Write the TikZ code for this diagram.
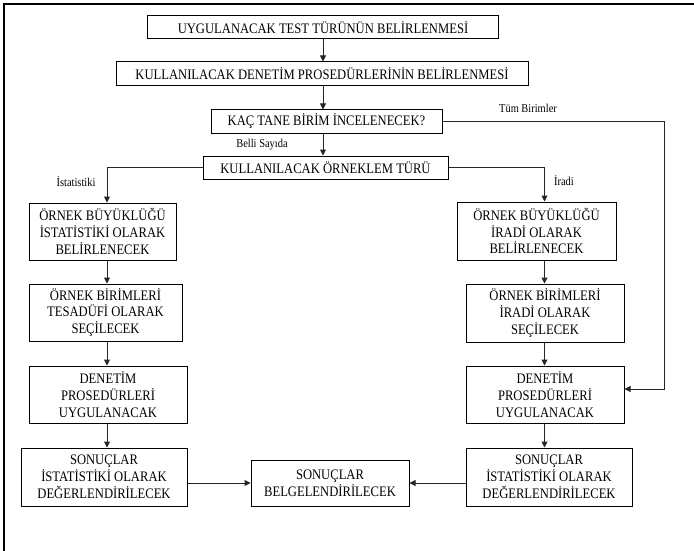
\documentclass[tikz,border=0pt]{standalone}
\usepackage{fontspec}
\setmainfont{Liberation Serif}[FakeStretch=0.87]
\usetikzlibrary{arrows.meta}
\begin{document}
\begin{tikzpicture}[x=1pt, y=-1pt, line width=0.9pt,
    box/.style={draw=black, line width=1pt, inner sep=0pt, align=center,
        font=\fontsize{14.5}{16.8}\selectfont, text=black},
    lbl/.style={inner sep=0pt, font=\fontsize{12}{14}\selectfont, text=black},
    arrow/.style={draw=black!85, line width=1pt, -{Triangle[length=6pt, width=6pt]}}
]
\useasboundingbox (0,0) rectangle (694,551);
% --- Rahmen ---
\draw[line width=1.3pt] (4,551) -- (4,4) -- (694,4);
% --- Ana akis ---
\node[box, minimum width=351pt, minimum height=23pt] (test) at (323,27.5) {UYGULANACAK TEST TÜRÜNÜN BELİRLENMESİ};
\node[box, minimum width=412pt, minimum height=24pt] (prosedur) at (322,74) {KULLANILACAK DENETİM PROSEDÜRLERİNİN BELİRLENMESİ};
\node[box, minimum width=231pt, minimum height=23pt] (kac) at (326.5,121.5) {KAÇ TANE BİRİM İNCELENECEK?};
\node[box, minimum width=245pt, minimum height=23pt] (tur) at (325.5,167.5) {KULLANILACAK ÖRNEKLEM TÜRÜ};
% --- Sol sutun (istatistiki) ---
\node[box, minimum width=147pt, minimum height=57pt] (sol1) at (102.5,231.5) {ÖRNEK BÜYÜKLÜĞÜ\\İSTATİSTİKİ OLARAK\\BELİRLENECEK};
\node[box, minimum width=153pt, minimum height=57pt] (sol2) at (105.5,312.5) {ÖRNEK BİRİMLERİ\\TESADÜFİ OLARAK\\SEÇİLECEK};
\node[box, minimum width=158pt, minimum height=57pt] (sol3) at (108,394.5) {DENETİM\\PROSEDÜRLERİ\\UYGULANACAK};
\node[box, minimum width=166pt, minimum height=58pt] (sol4) at (104,477) {SONUÇLAR\\İSTATİSTİKİ OLARAK\\DEĞERLENDİRİLECEK};
% --- Sag sutun (iradi) ---
\node[box, minimum width=159pt, minimum height=58pt] (sag1) at (536.5,231) {ÖRNEK BÜYÜKLÜĞÜ\\İRADİ OLARAK\\BELİRLENECEK};
\node[box, minimum width=158pt, minimum height=58pt] (sag2) at (545,313) {ÖRNEK BİRİMLERİ\\İRADİ OLARAK\\SEÇİLECEK};
\node[box, minimum width=158pt, minimum height=57pt] (sag3) at (545,394.5) {DENETİM\\PROSEDÜRLERİ\\UYGULANACAK};
\node[box, minimum width=166pt, minimum height=58pt] (sag4) at (549,477) {SONUÇLAR\\İSTATİSTİKİ OLARAK\\DEĞERLENDİRİLECEK};
% --- Sonuc ---
\node[box, minimum width=158pt, minimum height=46pt] (belge) at (330,483) {SONUÇLAR\\BELGELENDİRİLECEK};
% --- Yardimci noktalar ---
\coordinate (solx) at (107,0);
\coordinate (sagx) at (544.5,0);
\coordinate (orta) at (323,0);
\coordinate (tum) at (664,389);
% --- Oklar ---
\draw[arrow] (orta |- test.south) -- (orta |- prosedur.north);
\draw[arrow] (orta |- prosedur.south) -- (orta |- kac.north);
\draw[arrow] (orta |- kac.south) -- (orta |- tur.north);
\draw[arrow] (kac.east) -| (tum) -- (tum -| sag3.east);
\draw[arrow] (tur.west) -| (solx |- sol1.north);
\draw[arrow] (tur.east) -| (sagx |- sag1.north);
\draw[arrow] (solx |- sol1.south) -- (solx |- sol2.north);
\draw[arrow] (solx |- sol2.south) -- (solx |- sol3.north);
\draw[arrow] (solx |- sol3.south) -- (solx |- sol4.north);
\draw[arrow] (sagx |- sag1.south) -- (sagx |- sag2.north);
\draw[arrow] (sagx |- sag2.south) -- (sagx |- sag3.north);
\draw[arrow] (sagx |- sag3.south) -- (sagx |- sag4.north);
\draw[arrow] (sol4.east |- belge.west) -- (belge.west);
\draw[arrow] (sag4.west |- belge.east) -- (belge.east);
% --- Etiketler ---
\node[lbl] (tumlbl) at (528,108) {Tüm Birimler};
\node[lbl] (bellilbl) at (262,145) {Belli Sayıda};
\node[lbl] (istlbl) at (76,182) {İstatistiki};
\node[lbl] (iradilbl) at (564,181) {İradi};
\end{tikzpicture}
\end{document}
